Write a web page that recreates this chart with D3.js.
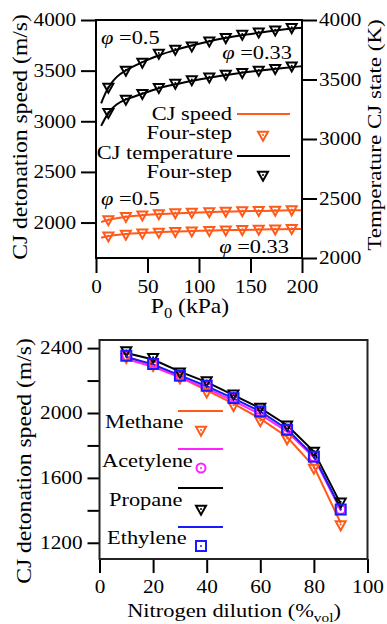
<!DOCTYPE html>
<html>
<head>
<meta charset="utf-8">
<script src="https://cdn.jsdelivr.net/npm/d3@7"></script>
<style>
body{margin:0;background:#fff}
svg{display:block}
</style>
</head>
<body>
<svg class="chart" width="387" height="624"></svg>
<script>
// ---- top panel: CJ speed / CJ temperature vs P0 ----
var pLine = [5,10,15,20,30,40,50,60,80,100,120,140,160,180,200];
var tempLine05  = [3300,3400,3470,3520,3580,3625,3665,3700,3755,3800,3840,3870,3895,3918,3935];
var tempLine033 = [3110,3190,3250,3290,3335,3365,3395,3425,3465,3500,3530,3555,3575,3595,3612];
var speedLine05  = [2005,2020,2033,2043,2058,2068,2076,2082,2092,2100,2106,2111,2115,2119,2122];
var speedLine033 = [1850,1862,1871,1878,1888,1895,1900,1905,1912,1918,1923,1927,1931,1934,1937];

var pFour = [12,29,45,61,77,93,110,126,142,158,174,190];
var tempFour05  = [3429,3571,3639,3714,3748,3776,3818,3846,3874,3893,3910,3930];
var tempFour033 = [3216,3328,3376,3426,3462,3492,3515,3538,3552,3571,3586,3608];
var speedFour05  = [2020,2052,2067,2079,2090,2094,2100,2104,2109,2112,2115,2118];
var speedFour033 = [1860,1877,1890,1898,1904,1910,1915,1919,1923,1927,1930,1934];

var topSpeedTicks = [2000,2500,3000,3500,4000];
var topTempTicks = [2000,2500,3000,3500,4000];
var topPTicks = [0,50,100,150,200];

// ---- bottom panel: CJ speed vs nitrogen dilution ----
var dilution = [10,20,30,40,50,60,70,80,90];
var methaneLine   = [2345,2295,2222,2140,2058,1965,1852,1670,1322];
var methaneFour   = [2338,2288,2212,2125,2041,1948,1836,1655,1306];
var acetyleneLine = [2332,2285,2220,2150,2075,1992,1885,1725,1400];
var acetyleneFour = [2350,2300,2228,2165,2090,2008,1895,1730,1405];
var propaneLine   = [2370,2330,2255,2190,2110,2030,1925,1762,1440];
var propaneFour   = [2379,2338,2248,2194,2113,2031,1922,1759,1446];
var ethyleneLine  = [2345,2300,2232,2165,2090,2010,1900,1735,1410];
var ethyleneFour  = [2353,2302,2230,2168,2092,2010,1897,1731,1405];

var botSpeedTicks = [1200,1400,1600,1800,2000,2200,2400];
var botSpeedLabels = [1200,1600,2000,2400];
var botDilTicks = [0,20,40,60,80,100];

var ORANGE = "#ff5a1a", MAGENTA = "#ff22ff", BLUE = "#1a1aff";
var FONT = "Liberation Serif, Times New Roman, serif";
var SX = 1.18; // the original lettering is wider than Times

var svg = d3.select(".chart");

function label(g, x, y, str, size, anchor, rot){
	var t = g.append("text")
		.attr("transform","translate("+x+","+y+")"+(rot?" rotate("+rot+")":"")+" scale("+SX+",1)")
		.attr("font-family",FONT)
		.attr("font-size",size)
		.attr("text-anchor",anchor||"start")
		.attr("fill","#000");
	if(str!==null) t.text(str);
	return t;
}

function styleAxis(g, dx){
	g.select(".domain").remove();
	g.selectAll(".tick line").attr("stroke","#000").attr("stroke-width",2);
	var tx = g.selectAll(".tick text")
		.attr("fill","#000")
		.attr("font-family",FONT)
		.attr("font-size",18)
		.attr("transform","scale("+SX+",1)");
	if(dx!==null) tx.attr("x",dx/SX);
}

function triDown(s){
	return "M"+(-s)+","+(-s*0.85)+"L"+s+","+(-s*0.85)+"L0,"+(s*0.95)+"Z";
}

var fmt = d3.format("d");

// ================= TOP =================
var xT = d3.scaleLinear().domain([0,200]).range([96,302]);
var ySp = d3.scaleLinear().domain([1650,4000]).range([258,20]);
var yTe = d3.scaleLinear().domain([2000,4000]).range([258,20]);

var topG = svg.append("g").attr("class","graph");

topG.append("g").attr("transform","translate(96,0)")
	.call(d3.axisLeft(ySp).tickValues(topSpeedTicks).tickFormat(fmt).tickSize(15).tickSizeOuter(0))
	.call(styleAxis,-20);
topG.append("g").attr("transform","translate(302,0)")
	.call(d3.axisRight(yTe).tickValues(topTempTicks).tickFormat(fmt).tickSize(15).tickSizeOuter(0))
	.call(styleAxis,17);
var bx = topG.append("g").attr("transform","translate(0,258)")
	.call(d3.axisBottom(xT).tickValues(topPTicks).tickFormat(fmt).tickSize(15).tickSizeOuter(0))
	.call(styleAxis,null);
bx.selectAll(".tick text").attr("y",22);

var lineSp = d3.line().x(function(d,i){return xT(pLine[i]);}).y(function(d){return ySp(d);}).curve(d3.curveMonotoneX);
var lineTe = d3.line().x(function(d,i){return xT(pLine[i]);}).y(function(d){return yTe(d);}).curve(d3.curveMonotoneX);

[speedLine05,speedLine033].forEach(function(s){
	topG.append("path").attr("d",lineSp(s)).attr("fill","none").attr("stroke",ORANGE).attr("stroke-width",2);
});
[tempLine05,tempLine033].forEach(function(s){
	topG.append("path").attr("d",lineTe(s)).attr("fill","none").attr("stroke","#000").attr("stroke-width",2);
});

function topMarks(vals, sc, col){
	var m = topG.selectAll(null).data(vals).enter().append("g")
		.attr("transform",function(d,i){return "translate("+xT(pFour[i])+","+sc(d)+")";});
	m.append("path").attr("d",triDown(5)).attr("fill","none").attr("stroke",col).attr("stroke-width",2);
	m.append("circle").attr("cy",-1).attr("r",1).attr("fill",col);
}
topMarks(speedFour05,ySp,ORANGE);
topMarks(speedFour033,ySp,ORANGE);
topMarks(tempFour05,yTe,"#000");
topMarks(tempFour033,yTe,"#000");

topG.append("rect").attr("x",96).attr("y",20).attr("width",206).attr("height",238)
	.attr("fill","none").attr("stroke","#000").attr("stroke-width",2);

function phi(g,x,y,val,anchor){
	var t = label(g,x,y,null,19,anchor);
	t.append("tspan").attr("font-style","italic").text("\u03c6");
	t.append("tspan").text(" =" + val);
}
phi(topG,101,44,"0.5");
phi(topG,292,59,"0.33","end");
phi(topG,101,205,"0.5");
phi(topG,289,253,"0.33","end");

// legend
label(topG,232,120,"CJ speed",19,"end");
topG.append("line").attr("x1",237).attr("x2",290).attr("y1",114).attr("y2",114).attr("stroke",ORANGE).attr("stroke-width",2);
label(topG,232,139,"Four-step",19,"end");
topG.append("path").attr("transform","translate(263,136)").attr("d",triDown(5)).attr("fill","none").attr("stroke",ORANGE).attr("stroke-width",2);
topG.append("circle").attr("cx",263).attr("cy",135).attr("r",1).attr("fill",ORANGE);
label(topG,233,159,"CJ temperature",19,"end");
topG.append("line").attr("x1",237).attr("x2",290).attr("y1",156).attr("y2",156).attr("stroke","#000").attr("stroke-width",2);
label(topG,232,178,"Four-step",19,"end");
topG.append("path").attr("transform","translate(263,176)").attr("d",triDown(5)).attr("fill","none").attr("stroke","#000").attr("stroke-width",2);
topG.append("circle").attr("cx",263).attr("cy",175).attr("r",1).attr("fill","#000");

// axis titles
label(topG,27,137,"CJ detonation speed (m/s)",20,"middle",-90);
label(topG,381,135,"Temperature CJ state (K)",19.5,"middle",-90);
var pt = label(topG,190,313,"P",20,"middle");
pt.append("tspan").attr("dy",5).attr("font-size",14).text("0");
pt.append("tspan").attr("dy",-5).text(" (kPa)");

// ================= BOTTOM =================
var xB = d3.scaleLinear().domain([0,100]).range([99.5,367.5]);
var yB = d3.scaleLinear().domain([1100,2450]).range([559,340]);

var botG = svg.append("g").attr("class","graph");

botG.append("g").attr("transform","translate(99.5,0)")
	.call(d3.axisLeft(yB).tickValues(botSpeedTicks).tickSize(12).tickSizeOuter(0)
		.tickFormat(function(d){return botSpeedLabels.indexOf(d)>=0 ? fmt(d) : "";}))
	.call(styleAxis,-17);
var bbx = botG.append("g").attr("transform","translate(0,559)")
	.call(d3.axisBottom(xB).tickValues(botDilTicks).tickFormat(fmt).tickSize(14).tickSizeOuter(0))
	.call(styleAxis,null);
bbx.selectAll(".tick text").attr("y",21);

var lineB = d3.line().x(function(d,i){return xB(dilution[i]);}).y(function(d){return yB(d);});

var gases = [
	{name:"Methane", line:methaneLine, four:methaneFour, col:ORANGE, mark:"tri"},
	{name:"Acetylene", line:acetyleneLine, four:acetyleneFour, col:MAGENTA, mark:"circ"},
	{name:"Propane", line:propaneLine, four:propaneFour, col:"#000", mark:"tri"},
	{name:"Ethylene", line:ethyleneLine, four:ethyleneFour, col:BLUE, mark:"sq"}
];

gases.forEach(function(gs){
	botG.append("path").attr("d",lineB(gs.line)).attr("fill","none").attr("stroke",gs.col).attr("stroke-width",2);
});

function drawMark(g, type, col){
	if(type=="tri"){
		g.append("path").attr("d",triDown(5)).attr("fill","none").attr("stroke",col).attr("stroke-width",2);
		g.append("circle").attr("cy",-1).attr("r",1).attr("fill",col);
	}else if(type=="circ"){
		g.append("circle").attr("r",4.5).attr("fill","none").attr("stroke",col).attr("stroke-width",2);
		g.append("circle").attr("r",1).attr("fill",col);
	}else{
		g.append("rect").attr("x",-5).attr("y",-5).attr("width",10).attr("height",10).attr("fill","none").attr("stroke",col).attr("stroke-width",2);
		g.append("circle").attr("r",1).attr("fill",col);
	}
}

gases.forEach(function(gs){
	botG.selectAll(null).data(gs.four).enter().append("g")
		.attr("transform",function(d,i){return "translate("+xB(dilution[i])+","+yB(d)+")";})
		.each(function(){ drawMark(d3.select(this), gs.mark, gs.col); });
});

botG.append("rect").attr("x",99.5).attr("y",340).attr("width",268).attr("height",219)
	.attr("fill","none").attr("stroke","#222").attr("stroke-width",2);

// legend
var legY = [[428,411,431],[467,449,468],[506,488,510],[544,527,546]];
var legX = [105,102,109,107];
gases.forEach(function(gs,i){
	label(botG,legX[i],legY[i][0],gs.name,19,"start");
	botG.append("line").attr("x1",178).attr("x2",223).attr("y1",legY[i][1]).attr("y2",legY[i][1]).attr("stroke",gs.col).attr("stroke-width",2);
	drawMark(botG.append("g").attr("transform","translate(201,"+legY[i][2]+")"), gs.mark, gs.col);
});

label(botG,31,461,"CJ detonation speed (m/s)",20,"middle",-90);
var nt = label(botG,234,617,"Nitrogen dilution (%",19,"middle");
nt.append("tspan").attr("dy",5).attr("font-size",13).text("vol");
nt.append("tspan").attr("dy",-5).text(")");
</script>
</body>
</html>
